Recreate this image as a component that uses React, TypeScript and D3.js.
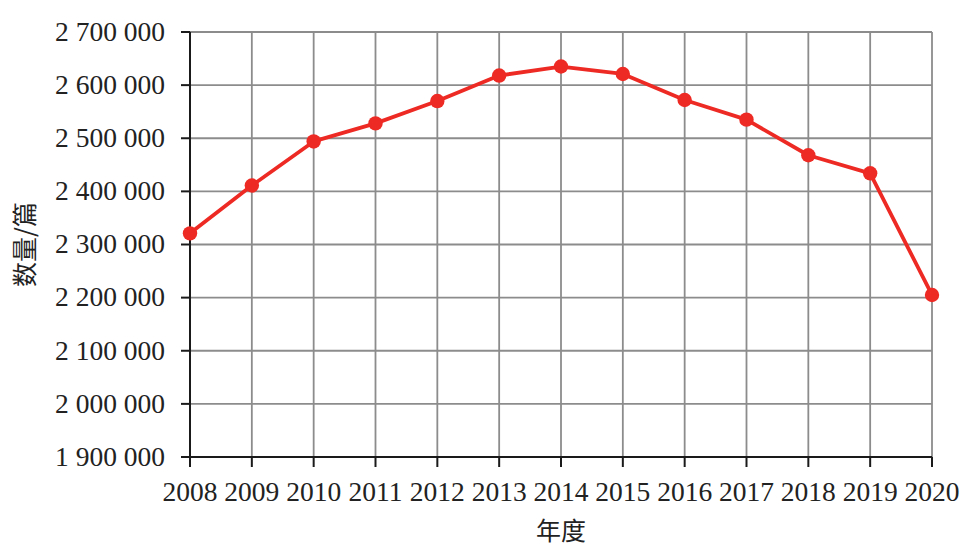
import React from "react";
import * as d3 from "d3";

const years = [2008, 2009, 2010, 2011, 2012, 2013, 2014, 2015, 2016, 2017, 2018, 2019, 2020];
const counts = [2321000, 2411000, 2494000, 2528000, 2570000, 2618000, 2635000, 2621000, 2572000, 2535000, 2468000, 2434000, 2205000];
const yTicks = [1900000, 2000000, 2100000, 2200000, 2300000, 2400000, 2500000, 2600000, 2700000];
const xTitle = "年度";
const yTitle = "数量/篇";

const W = 973;
const H = 552;
const M = { left: 190, right: 41, top: 32, bottom: 95 };

const fmt = (v: number) => d3.format(",")(v).replace(/,/g, " ");

export default function App() {
  const x = d3.scaleLinear().domain([2008, 2020]).range([M.left, W - M.right]);
  const y = d3.scaleLinear().domain([1900000, 2700000]).range([H - M.bottom, M.top]);
  const line = d3
    .line<number>()
    .x((_, i) => x(years[i]))
    .y((d) => y(d));
  const serif = "'Liberation Serif', 'DejaVu Serif', serif";
  const x0 = x(2008);
  const x1 = x(2020);
  const yb = y(1900000);
  const yt = y(2700000);
  return (
    <svg
      width={W}
      height={H}
      style={{ position: "absolute", left: 0, top: 0, background: "#fff" }}
    >
      {/* grid */}
      {yTicks.map((t) => (
        <line key={"gy" + t} x1={x0} x2={x1} y1={y(t)} y2={y(t)} stroke="#8c8c8c" strokeWidth={1.8} />
      ))}
      {years.map((yr) => (
        <line key={"gx" + yr} x1={x(yr)} x2={x(yr)} y1={yt} y2={yb} stroke="#8c8c8c" strokeWidth={1.8} />
      ))}
      {/* axes */}
      <line x1={x0} x2={x0} y1={yt} y2={yb} stroke="#1a1a1a" strokeWidth={2} />
      <line x1={x0} x2={x1} y1={yb} y2={yb} stroke="#1a1a1a" strokeWidth={2} />
      {yTicks.map((t) => (
        <g key={"ty" + t}>
          <line x1={x0 - 9} x2={x0} y1={y(t)} y2={y(t)} stroke="#1a1a1a" strokeWidth={2} />
          <text
            x={x0 - 25}
            y={y(t)}
            dy="0.32em"
            textAnchor="end"
            fontFamily={serif}
            fontSize={27.5}
            fill="#222"
          >
            {fmt(t)}
          </text>
        </g>
      ))}
      {years.map((yr) => (
        <g key={"tx" + yr}>
          <line x1={x(yr)} x2={x(yr)} y1={yb} y2={yb + 10} stroke="#1a1a1a" strokeWidth={2} />
          <text
            x={x(yr)}
            y={501}
            textAnchor="middle"
            fontFamily={serif}
            fontSize={27.5}
            fill="#222"
          >
            {yr}
          </text>
        </g>
      ))}
      {/* titles */}
      <text
        x={(x0 + x1) / 2}
        y={540}
        textAnchor="middle"
        fontFamily="'Noto Sans CJK SC', sans-serif"
        fontSize={25}
        fill="#222"
      >
        {xTitle}
      </text>
      <text
        transform={`translate(34, ${(yt + yb) / 2}) rotate(-90)`}
        textAnchor="middle"
        fontFamily="'Noto Sans CJK SC', sans-serif"
        fontSize={25}
        fill="#222"
      >
        {yTitle}
      </text>
      {/* series */}
      <path d={line(counts) || ""} fill="none" stroke="#ee2a24" strokeWidth={3.8} strokeLinejoin="round" />
      {counts.map((c, i) => (
        <circle key={"p" + i} cx={x(years[i])} cy={y(c)} r={7.2} fill="#ee2a24" />
      ))}
    </svg>
  );
}
